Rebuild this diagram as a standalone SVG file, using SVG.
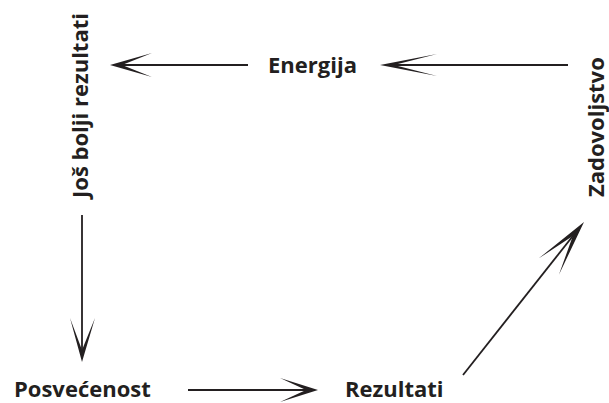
<svg xmlns="http://www.w3.org/2000/svg" width="609" height="403" viewBox="0 0 609 403">
<style>
  .lbl { font-family: "Open Sans", "Liberation Sans", sans-serif; font-weight: bold; font-size: 22px; fill: #231f20; }
  .shaft { stroke: #231f20; stroke-width: 1.8; fill: none; }
  .head { fill: #231f20; stroke: none; }
</style>
<rect width="609" height="403" fill="#ffffff"/>
<g id="connectors">
  <line class="shaft" x1="248" y1="65" x2="120" y2="65"/>
  <polygon class="head" points="110,65 152,53 122,65 152,77"/>
  <line class="shaft" x1="568" y1="65" x2="390" y2="65"/>
  <polygon class="head" points="380,65 437,54 394,65 437,76"/>
  <line class="shaft" x1="82" y1="215" x2="82" y2="352"/>
  <polygon class="head" points="82,362 70,318 82,350 95,318"/>
  <line class="shaft" x1="188" y1="390" x2="308" y2="390"/>
  <polygon class="head" points="318,390 280,378 306,390 280,402"/>
  <line class="shaft" x1="463" y1="375" x2="576" y2="232"/>
  <polygon class="head" points="584,222 538.5,258.6 572.8,236.1 558.9,274.8"/>
</g>
<g id="node-energija"><text class="lbl" x="268" y="73">Energija</text></g>
<g id="node-jos-bolji-rezultati"><text class="lbl" transform="translate(88,198) rotate(-90)">Još bolji rezultati</text></g>
<g id="node-posvecenost"><text class="lbl" x="14" y="397">Posvećenost</text></g>
<g id="node-rezultati"><text class="lbl" x="345" y="397">Rezultati</text></g>
<g id="node-zadovoljstvo"><text class="lbl" transform="translate(604,197) rotate(-90)">Zadovoljstvo</text></g>
</svg>
